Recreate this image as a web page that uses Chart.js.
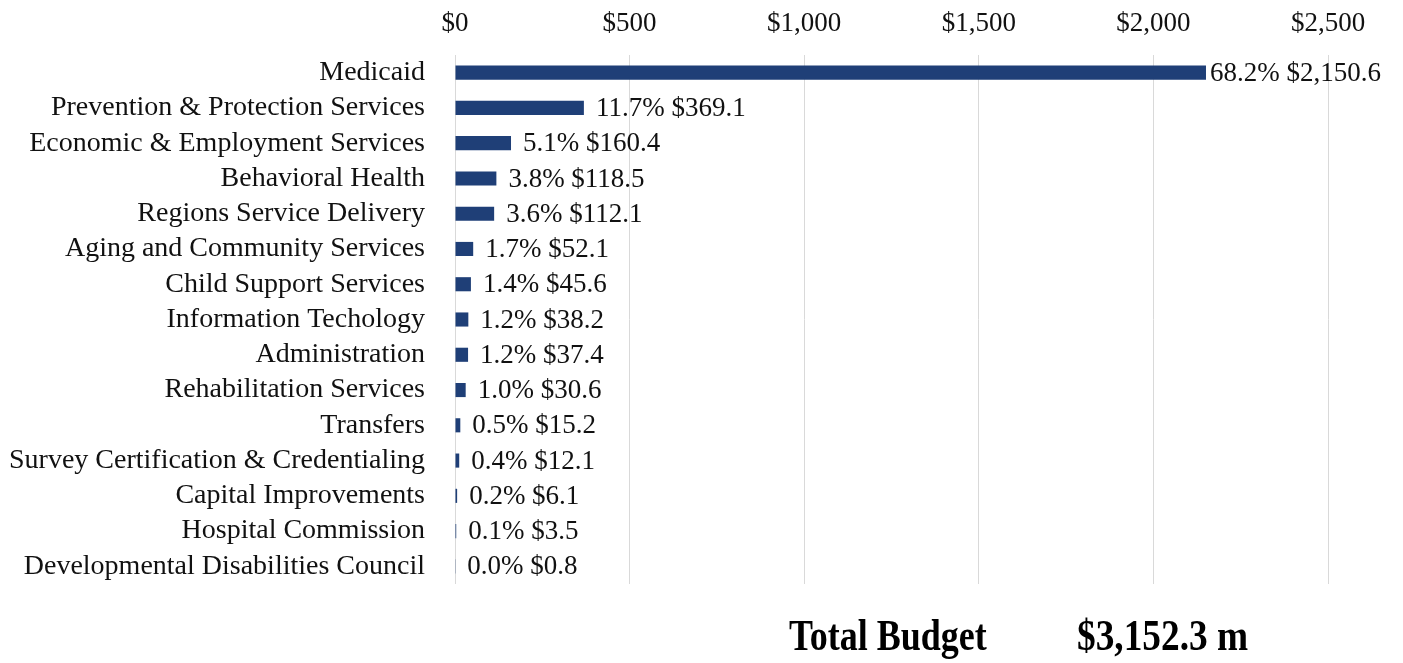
<!DOCTYPE html>
<html>
<head>
<meta charset="utf-8">
<script src="https://cdn.jsdelivr.net/npm/chart.js@4"></script>
<style>
  html, body { margin: 0; padding: 0; background: #fff; }
  #wrap { width: 1403px; height: 663px; position: relative; }
</style>
</head>
<body>
<div id="wrap"><canvas id="budgetChart"></canvas></div>
<script>
// budget by program, $ millions
const programs = [
    "Medicaid",
    "Prevention & Protection Services",
    "Economic & Employment Services",
    "Behavioral Health",
    "Regions Service Delivery",
    "Aging and Community Services",
    "Child Support Services",
    "Information Techology",
    "Administration",
    "Rehabilitation Services",
    "Transfers",
    "Survey Certification & Credentialing",
    "Capital Improvements",
    "Hospital Commission",
    "Developmental Disabilities Council"
];
const amounts = [2150.6, 369.1, 160.4, 118.5, 112.1, 52.1, 45.6, 38.2, 37.4, 30.6, 15.2, 12.1, 6.1, 3.5, 0.8];
const shares = ["68.2%", "11.7%", "5.1%", "3.8%", "3.6%", "1.7%", "1.4%", "1.2%", "1.2%", "1.0%", "0.5%", "0.4%", "0.2%", "0.1%", "0.0%"];
const xTicks = [0, 500, 1000, 1500, 2000, 2500];
const totalLabel = "Total Budget";
const totalValue = "$3,152.3 m";

const serif = "'Liberation Serif', 'Times New Roman', serif";
Chart.defaults.font.family = serif;
Chart.defaults.color = "#111";

const money = (v) => "$" + v.toLocaleString("en-US", { maximumFractionDigits: 1, minimumFractionDigits: 0 });
const money1 = (v) => "$" + v.toLocaleString("en-US", { maximumFractionDigits: 1, minimumFractionDigits: 1 });

// labels at the end of each bar: "68.2% $2,150.6"
const barLabels = {
    id: "barLabels",
    afterDatasetsDraw(chart) {
        const ctx = chart.ctx;
        const meta = chart.getDatasetMeta(0);
        ctx.save();
        ctx.font = "27px " + serif;
        ctx.fillStyle = "#111";
        ctx.textBaseline = "middle";
        ctx.textAlign = "left";
        meta.data.forEach((bar, i) => {
            const txt = shares[i] + " " + money1(amounts[i]);
            const w = ctx.measureText(txt).width;
            // tight to the bar when the label would run off the right edge
            let x = bar.x + 12;
            if (x + w > chart.width - 20) x = bar.x + 4;
            ctx.fillText(txt, x, bar.y + 1);
        });
        ctx.restore();
    }
};

// the condensed bold total line under the chart
const totalText = {
    id: "totalText",
    afterDraw(chart) {
        const ctx = chart.ctx;
        ctx.save();
        ctx.font = "bold 45px " + serif;
        ctx.fillStyle = "#000";
        ctx.textBaseline = "alphabetic";
        ctx.save();
        ctx.scale(0.8, 1);
        ctx.fillText(totalLabel, 789 / 0.8, 650);
        ctx.restore();
        ctx.scale(0.83, 1);
        ctx.fillText(totalValue, 1077 / 0.83, 650);
        ctx.restore();
    }
};

const ctx = document.getElementById("budgetChart").getContext("2d");

window.budgetChart = new Chart(ctx, {
    type: "bar",
    data: {
        labels: programs,
        datasets: [
            {
                label: "Budget",
                data: amounts,
                backgroundColor: "#1F3F77",
                borderWidth: 0,
                barPercentage: 0.4,
                categoryPercentage: 1.0,
            },
        ],
    },
    plugins: [barLabels, totalText],
    options: {
        indexAxis: "y",
        responsive: true,
        maintainAspectRatio: false,
        animation: false,
        layout: {
            padding: { top: 0, left: 0, right: 75, bottom: 79 },
        },
        scales: {
            x: {
                position: "top",
                min: 0,
                max: 2500,
                afterBuildTicks: (scale) => {
                    scale.ticks = xTicks.map((v) => ({ value: v }));
                },
                afterFit: (scale) => {
                    scale.height = 55;
                },
                grid: {
                    color: "#d9d9d9",
                    lineWidth: 1,
                    drawTicks: false,
                },
                border: {
                    display: false,
                },
                ticks: {
                    padding: 15,
                    color: "#111",
                    font: { size: 27 },
                    callback: (v) => money(v),
                },
            },
            y: {
                afterFit: (scale) => {
                    scale.width = 455;
                },
                grid: {
                    display: false,
                    drawTicks: false,
                },
                border: {
                    display: false,
                },
                ticks: {
                    padding: 30,
                    color: "#111",
                    font: { size: 28 },
                    autoSkip: false,
                },
            },
        },
        plugins: {
            legend: { display: false },
            tooltip: { enabled: false },
            title: { display: false },
        },
    },
});
</script>
</body>
</html>
